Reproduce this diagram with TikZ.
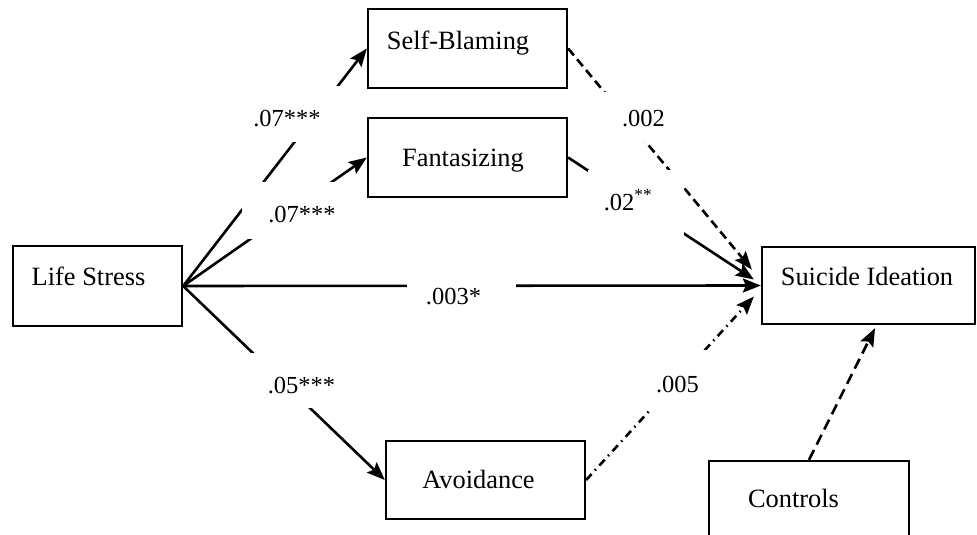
\documentclass[tikz,border=0pt]{standalone}
\usepackage{fontspec}
\setmainfont{Liberation Serif}
\usetikzlibrary{arrows.meta}
\newcommand{\padR}[1]{\rule{#1}{0pt}}
\tikzset{
  boxnode/.style={draw, line width=2.3pt, inner sep=0pt, font=\fontsize{26.4}{30}\selectfont},
  lbl/.style={fill=white, inner sep=0pt, font=\fontsize{24.5}{28}\selectfont},
  hd/.style 2 args={text height=#1, text depth=#2},
  conn/.style={line width=2.6pt, -{Stealth[length=18pt,width=14pt,inset=3pt]}},
  dashconn/.style={conn, dash pattern=on 9pt off 5pt},
  ctrlconn/.style={conn, dash pattern=on 11pt off 6pt},
  dashdotconn/.style={conn, dash pattern=on 8pt off 5pt on 1.5pt off 5pt}
}
\begin{document}
\begin{tikzpicture}[x=1pt,y=-1pt]
\useasboundingbox (0,0) rectangle (977,535);
\clip (0,0) rectangle (977,535);
% boxes
\node[boxnode, hd={0pt}{2pt}, minimum width=169pt, minimum height=80pt] (ls) at (97.5,286) {Life Stress\padR{18pt}};
\node[boxnode, hd={3pt}{0pt}, minimum width=199pt, minimum height=79pt] (sb) at (467.5,48.5) {Self-Blaming\padR{19pt}};
\node[boxnode, hd={17pt}{0pt}, minimum width=199pt, minimum height=79pt] (fa) at (467.5,157.5) {Fantasizing\padR{9pt}};
\node[boxnode, hd={16pt}{0pt}, minimum width=199pt, minimum height=78pt] (av) at (485.5,480) {Avoidance\padR{14pt}};
\node[boxnode, hd={0pt}{1pt}, minimum width=213pt, minimum height=77pt] (si) at (868.5,285.5) {Suicide Ideation\padR{3pt}};
\node[boxnode, hd={0pt}{8pt}, minimum width=200pt, minimum height=100pt] (co) at (809,511) {Controls\padR{31pt}};
% connectors
\draw[conn] (ls.east) -- (sb.west);
\draw[conn] (ls.east) -- (fa.west);
\draw[conn] (ls.east) -- (av.west);
\draw[conn] (ls.east) -- (si.west);
\draw[dashconn] (sb.east) -- ([xshift=-9pt,yshift=16pt]si.west);
\draw[conn] (fa.east) -- ([xshift=-7pt,yshift=6pt]si.west);
\draw[dashdotconn] (av.east) -- ([xshift=-7pt,yshift=-11pt]si.west);
\draw[ctrlconn] (co.north) -- ([xshift=6.5pt,yshift=-3pt]si.south);
% labels
\node[lbl, hd={24pt}{0pt}, minimum width=94pt, minimum height=56pt] (l1) at (295,114) {.07***\padR{16pt}};
\node[lbl, hd={23pt}{0pt}, minimum width=84pt, minimum height=57pt] (l2) at (289,210.5) {\padR{26pt}.07***};
\node[lbl, hd={25pt}{0pt}, minimum width=92pt, minimum height=55pt] (l3) at (294,380.5) {\padR{15pt}.05***};
\node[lbl, hd={18pt}{0pt}, minimum width=109pt, minimum height=46pt] (l4) at (461.5,295) {.003*\padR{16pt}};
\node[lbl, hd={18pt}{0pt}, minimum width=72pt, minimum height=50pt] (l5) at (634,117) {\padR{19pt}.002};
\node[lbl, hd={15pt}{0pt}, minimum width=96pt, minimum height=65pt] (l6) at (636,202.5) {.02\textsuperscript{**}\padR{16pt}};
\node[lbl, hd={24pt}{0pt}, minimum width=65pt, minimum height=60pt] (l7) at (677.5,380) {.005};
\end{tikzpicture}
\end{document}
